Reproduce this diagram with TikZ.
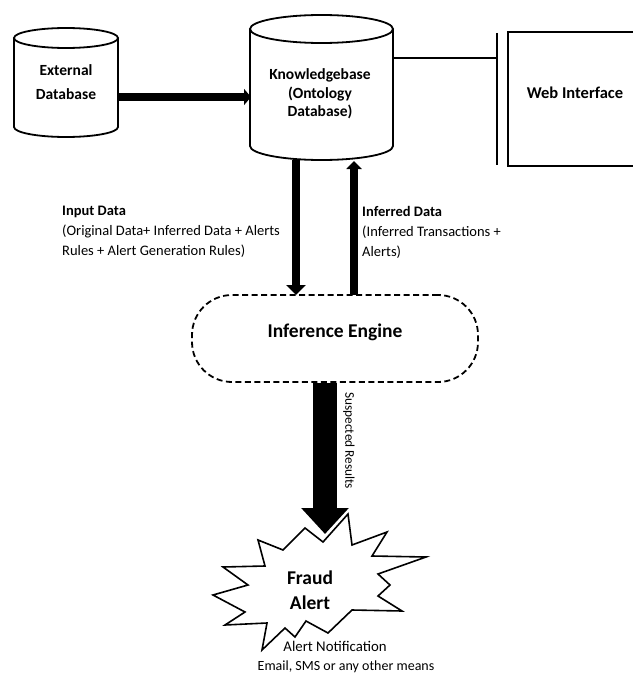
\documentclass[tikz,border=0pt]{standalone}
\usepackage{fontspec}
\setmainfont{Carlito}
\usetikzlibrary{arrows.meta}
\begin{document}
\begin{tikzpicture}[x=1pt,y=-1pt,
  cyl/.style={line width=1.8pt, fill=white},
  lbl/.style={font=\bfseries\fontsize{15.5}{18.5}\selectfont, align=center, inner sep=0pt},
  smalltxt/.style={font=\fontsize{14.5}{20}\selectfont, align=left, inner sep=0pt},
  thickarrow/.style={line width=8pt, -{Triangle[length=8pt,width=17pt]}},
  ]
\useasboundingbox (0,0) rectangle (632,677);
\fill[white] (0,0) rectangle (632,677);

% External database cylinder
\draw[cyl] (14,38) -- (14,127) arc[start angle=180,end angle=0,x radius=52,y radius=10] -- (118,38);
\draw[cyl] (66,38) ellipse [x radius=52,y radius=10];
\node[lbl, font=\bfseries\fontsize{15.5}{23.5}\selectfont] (ext) at (66,82) {External\\Database};

% Knowledgebase cylinder
\draw[cyl] (250,29) -- (250,146) arc[start angle=180,end angle=0,x radius=71.5,y radius=14] -- (393,29);
\draw[cyl] (321.5,29) ellipse [x radius=71.5,y radius=14];
\node[lbl] (kb) at (320,94) {Knowledgebase\\(Ontology\\Database)};

% Arrow external -> KB
\coordinate (extR) at (118,97);
\coordinate (kbL) at (251,97);
\draw[line width=8pt, -{Triangle[length=7pt,width=16pt]}] (extR) -- (kbL);

% Web interface
\node[draw, line width=1.8pt, minimum width=134pt, minimum height=134pt, inner sep=0pt] (web) at (575,99) {};
\node[lbl, font=\bfseries\fontsize{16.5}{19}\selectfont] (webtxt) at (575,93) {Web Interface};
\coordinate (barT) at (497,33);
\coordinate (barB) at (497,165);
\draw[line width=1.8pt] (barT) -- (barB);
\coordinate (kbR) at (393,58);
\coordinate (barM) at (497,58);
\draw[line width=1.8pt] (kbR) -- (barM);

% Inference engine
\node[draw, dashed, dash pattern=on 6pt off 3.5pt, line width=1.8pt, rounded corners=40pt,
      minimum width=286pt, minimum height=87pt, inner sep=0pt] (ie) at (335,338.5) {};
\node[font=\bfseries\fontsize{19.5}{22}\selectfont, inner sep=0pt] (ietxt) at (335,332) {Inference Engine};

% KB <-> IE arrows
\coordinate (kbB1) at (296,160);
\coordinate (ieT1) at (296,295);
\draw[thickarrow, -{Triangle[length=10pt,width=19pt]}] (kbB1) -- (ieT1);
\coordinate (ieT2) at (354,295);
\coordinate (kbB2) at (354,161);
\draw[thickarrow, -{Triangle[length=8pt,width=15pt]}] (ieT2) -- (kbB2);

% labels
\node[smalltxt, anchor=north west] (inlbl) at (62,206) {{\bfseries Input Data}\\(Original Data+ Inferred Data + Alerts\\Rules + Alert Generation Rules)};
\node[smalltxt, anchor=north west] (inflbl) at (362,206) {{\bfseries Inferred Data}\\(Inferred Transactions +\\Alerts)};

% Fraud alert starburst
\draw[line width=1.6pt, fill=white, line join=miter]
  (258,540) -- (283,550) -- (305,528) -- (323,542) -- (348,514) -- (352,545) --
  (387,532) -- (372,556) -- (426,557) -- (378,574) -- (390,585) -- (378,596) --
  (402,611) -- (352,610) -- (328,633) -- (306,621) -- (295,637) -- (285,628) --
  (262,650) -- (267,623) -- (225,625) -- (245,612) -- (213,595) -- (248,585) --
  (223,567) -- (265,566) -- cycle;
\node[font=\bfseries\fontsize{19.5}{25}\selectfont, align=center, inner sep=0pt] (fraud) at (310,590) {Fraud\\Alert};

% Suspected results arrow
\coordinate (ieB) at (325,383);
\coordinate (fraudT) at (325,534);
\draw[line width=24pt, -{Triangle[length=26pt,width=46pt]}] (ieB) -- (fraudT);
\node[font=\fontsize{13.3}{16}\selectfont, rotate=-90, anchor=south west, inner sep=0pt] (susp) at (343,392) {Suspected Results};

% notification texts
\node[font=\fontsize{14.8}{16}\selectfont, inner sep=0pt] (notif) at (335,646) {Alert Notification};
\node[font=\fontsize{14}{16}\selectfont, inner sep=0pt] (email) at (346,667) {Email, SMS or any other means};
\end{tikzpicture}
\end{document}
